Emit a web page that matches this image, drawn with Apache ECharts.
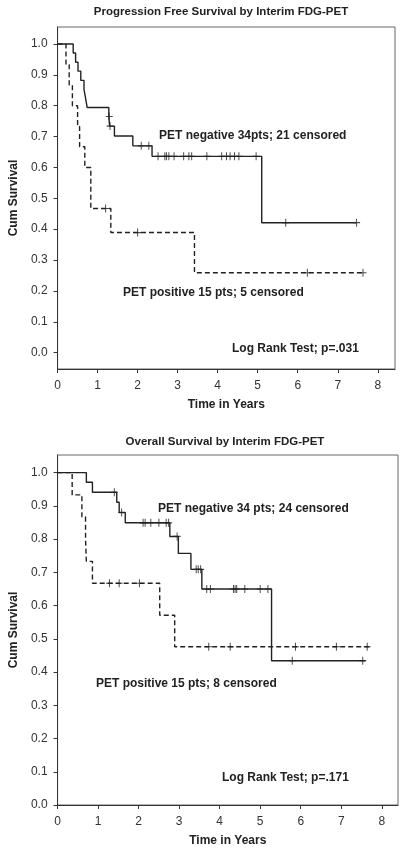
<!DOCTYPE html>
<html>
<head>
<meta charset="utf-8">
<script src="https://cdn.jsdelivr.net/npm/echarts@6.0.0/dist/echarts.min.js"></script>
<style>
html,body{margin:0;padding:0;background:#fff;}
#main{width:407px;height:853px;}
</style>
</head>
<body>
<div id="main"></div>
<script>
// ---------- Data ----------
const xTicks = [0, 1, 2, 3, 4, 5, 6, 7, 8];
const yTicks = [0, 0.1, 0.2, 0.3, 0.4, 0.5, 0.6, 0.7, 0.8, 0.9, 1.0];

// Progression free survival — PET negative (solid)
const pfsNegTime = [0, 0.39, 0.45, 0.51, 0.58, 0.66, 0.70, 0.74, 1.28, 1.30, 1.42, 1.88, 2.36, 5.10, 7.47];
const pfsNegSurv = [1.0, 0.971, 0.941, 0.912, 0.882, 0.853, 0.824, 0.794, 0.765, 0.734, 0.702, 0.670, 0.636, 0.421, 0.421];
const pfsNegCensTime = [1.29, 1.31, 2.09, 2.28, 2.51, 2.68, 2.72, 2.78, 2.91, 3.15, 3.28, 3.35, 3.73, 4.10, 4.22, 4.31, 4.42, 4.53, 4.96, 5.70, 7.47];
const pfsNegCensSurv = [0.765, 0.734, 0.670, 0.670, 0.636, 0.636, 0.636, 0.636, 0.636, 0.636, 0.636, 0.636, 0.636, 0.636, 0.636, 0.636, 0.636, 0.636, 0.636, 0.421, 0.421];

// Progression free survival — PET positive (dashed)
const pfsPosTime = [0, 0.21, 0.29, 0.37, 0.50, 0.55, 0.68, 0.83, 1.33, 3.42, 7.63];
const pfsPosSurv = [1.0, 0.933, 0.867, 0.800, 0.733, 0.667, 0.600, 0.467, 0.389, 0.259, 0.259];
const pfsPosCensTime = [1.20, 2.00, 6.24, 7.63];
const pfsPosCensSurv = [0.467, 0.389, 0.259, 0.259];

// Overall survival — PET negative (solid)
const osNegTime = [0, 0.71, 0.86, 1.46, 1.52, 1.67, 2.77, 2.98, 3.29, 3.56, 5.28, 7.60];
const osNegSurv = [1.0, 0.971, 0.941, 0.911, 0.880, 0.849, 0.808, 0.757, 0.709, 0.650, 0.434, 0.434];
const osNegCensTime = [1.40, 1.58, 2.11, 2.16, 2.30, 2.50, 2.68, 2.74, 2.95, 3.42, 3.47, 3.53, 3.68, 3.77, 4.34, 4.38, 4.42, 4.62, 5.00, 5.19, 5.79, 7.53];
const osNegCensSurv = [0.941, 0.880, 0.849, 0.849, 0.849, 0.849, 0.849, 0.849, 0.808, 0.709, 0.709, 0.709, 0.650, 0.650, 0.650, 0.650, 0.650, 0.650, 0.650, 0.650, 0.434, 0.434];

// Overall survival — PET positive (dashed)
const osPosTime = [0, 0.36, 0.60, 0.69, 0.71, 0.86, 2.52, 2.89, 7.70];
const osPosSurv = [1.0, 0.933, 0.867, 0.800, 0.733, 0.667, 0.571, 0.476, 0.476];
const osPosCensTime = [1.28, 1.52, 2.02, 3.73, 4.26, 5.87, 6.88, 7.64];
const osPosCensSurv = [0.667, 0.667, 0.667, 0.476, 0.476, 0.476, 0.476, 0.476];

// ---------- Chart ----------
const FONT = 'Liberation Sans, Arial, sans-serif';
const INK = '#222';
const zip = (a, b) => a.map((v, i) => [v, b[i]]);
const plus = 'path://M3,0h1v3h3v1h-3v3h-1v-3h-3v-1h3z';

function kmLine(name, t, s, grid, dashed) {
  return {
    name, type: 'line', xAxisIndex: grid, yAxisIndex: grid,
    data: zip(t, s), step: 'end', showSymbol: false, symbol: 'none',
    lineStyle: { color: INK, width: 1.4, type: dashed ? [5, 3] : 'solid' },
    silent: true, animation: false, z: 3
  };
}
function cens(name, t, s, grid) {
  return {
    name, type: 'scatter', xAxisIndex: grid, yAxisIndex: grid,
    data: zip(t, s), symbol: plus, symbolSize: [7, 8],
    itemStyle: { color: INK }, silent: true, animation: false, z: 4
  };
}
function xAx(grid, max, gap, margin) {
  return {
    gridIndex: grid, type: 'value', min: 0, max: max,
    name: 'Time in Years', nameLocation: 'middle', nameGap: gap,
    nameTextStyle: { fontFamily: FONT, fontSize: 12, fontWeight: 'bold', color: INK },
    axisLine: { show: true, onZero: false, lineStyle: { color: '#333', width: 1 } },
    axisTick: { show: true, length: 4, customValues: xTicks, lineStyle: { color: '#333' } },
    axisLabel: { customValues: xTicks, fontFamily: FONT, fontSize: 12, color: '#333', margin: margin },
    splitLine: { show: false }
  };
}
function yAx(grid, min, max, gap) {
  return {
    gridIndex: grid, type: 'value', min: min, max: max,
    name: 'Cum Survival', nameLocation: 'middle', nameGap: gap, nameRotate: 90,
    nameTextStyle: { fontFamily: FONT, fontSize: 12, fontWeight: 'bold', color: INK },
    axisLine: { show: true, onZero: false, lineStyle: { color: '#333', width: 1 } },
    axisTick: { show: true, length: 4, customValues: yTicks, lineStyle: { color: '#333' } },
    axisLabel: { customValues: yTicks, fontFamily: FONT, fontSize: 12, color: '#333', margin: 10,
      formatter: v => v.toFixed(1) },
    splitLine: { show: false }
  };
}
function txt(x, y, text, bold, size, align) {
  return {
    type: 'text', x: x, y: y,
    style: { text: text, fontFamily: FONT, fontSize: size || 12, fontWeight: bold ? 'bold' : 'normal',
      fill: INK, textAlign: align || 'left', textVerticalAlign: 'middle' },
    silent: true
  };
}

const chart = echarts.init(document.getElementById('main'), null, { renderer: 'canvas' });
chart.setOption({
  backgroundColor: '#fff',
  animation: false,
  grid: [
    { left: 53, top: 27, width: 342, height: 342, show: true, borderColor: '#666', borderWidth: 1, containLabel: false },
    { left: 52, top: 455, width: 346, height: 350, show: true, borderColor: '#666', borderWidth: 1, containLabel: false }
  ],
  xAxis: [xAx(0, 8.43, 30, 11), xAx(1, 8.40, 30, 11)],
  yAxis: [yAx(0, -0.053, 1.055, 37), yAx(1, 0, 1.053, 36)],
  series: [
    kmLine('PFS PET negative', pfsNegTime, pfsNegSurv, 0, false),
    kmLine('PFS PET positive', pfsPosTime, pfsPosSurv, 0, true),
    cens('PFS neg censored', pfsNegCensTime, pfsNegCensSurv, 0),
    cens('PFS pos censored', pfsPosCensTime, pfsPosCensSurv, 0),
    kmLine('OS PET negative', osNegTime, osNegSurv, 1, false),
    kmLine('OS PET positive', osPosTime, osPosSurv, 1, true),
    cens('OS neg censored', osNegCensTime, osNegCensSurv, 1),
    cens('OS pos censored', osPosCensTime, osPosCensSurv, 1)
  ],
  graphic: [
    txt(221, 12, 'Progression Free Survival by Interim FDG-PET', true, 11.5, 'center'),
    txt(159, 136, 'PET negative 34pts; 21 censored', true, 12),
    txt(123, 293, 'PET positive 15 pts; 5 censored', true, 12),
    txt(232, 349, 'Log Rank Test; p=.031', true, 12),
    txt(225, 442, 'Overall Survival by Interim FDG-PET', true, 11.5, 'center'),
    txt(158, 509, 'PET negative 34 pts; 24 censored', true, 12),
    txt(96, 684, 'PET positive 15 pts; 8 censored', true, 12),
    txt(222, 778, 'Log Rank Test; p=.171', true, 12)
  ]
});
</script>
</body>
</html>
